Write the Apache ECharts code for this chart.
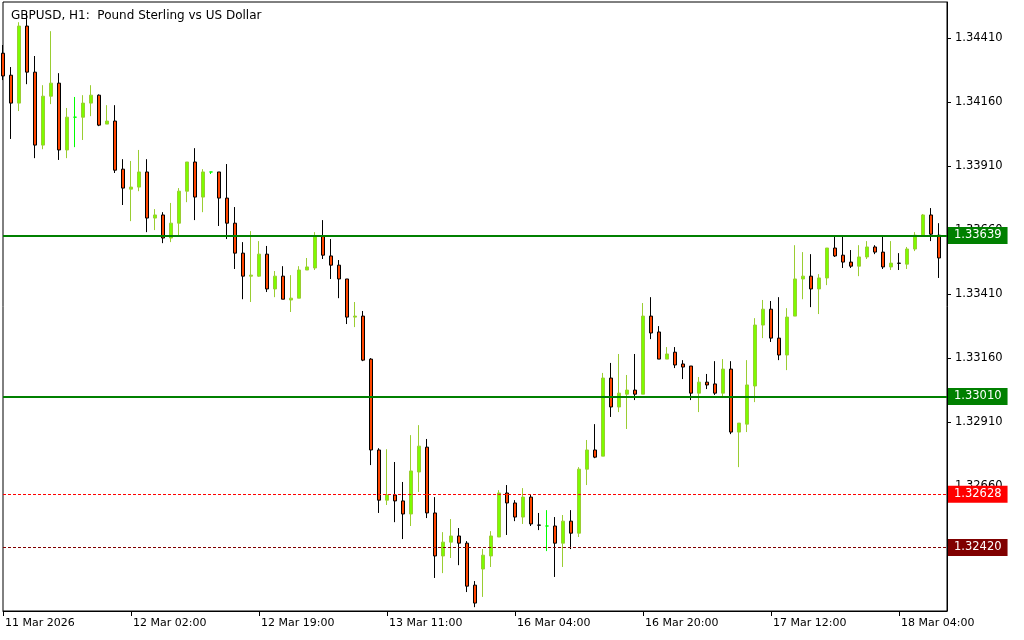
<!DOCTYPE html>
<html><head><meta charset="utf-8">
<script src="https://cdn.jsdelivr.net/npm/echarts@6/dist/echarts.min.js"></script>
<style>html,body{margin:0;padding:0;background:#fff}#c{width:1024px;height:640px}</style>
</head><body><div id="c"></div>
<script>
const chartTitle = 'GBPUSD, H1:  Pound Sterling vs US Dollar';
const timeLabels = ['11 Mar 2026','12 Mar 02:00','12 Mar 19:00','13 Mar 11:00','16 Mar 04:00','16 Mar 20:00','17 Mar 12:00','18 Mar 04:00'];
const labelStep = 16;
const priceTicks = [1.32410,1.32660,1.32910,1.33160,1.33410,1.33660,1.33910,1.34160,1.34410];

const opens = [
1.34351,1.34265,1.34156,1.34457,1.34277,1.33992,1.34183,1.34234,1.33973,1.34101,
1.34101,1.34156,1.34187,1.34074,1.34086,1.33898,1.33820,1.33828,1.33887,1.33707,
1.33719,1.33629,1.33687,1.33812,1.33926,1.33789,1.33887,1.33887,1.33785,1.33687,
1.33570,1.33480,1.33480,1.33566,1.33430,1.33480,1.33387,1.33394,1.33504,1.33512,
1.33637,1.33559,1.33523,1.33469,1.33320,1.33324,1.33156,1.32801,1.32605,1.32625,
1.32602,1.32551,1.32715,1.32812,1.32555,1.32387,1.32441,1.32465,1.32437,1.32273,
1.32336,1.32387,1.32461,1.32633,1.32594,1.32539,1.32617,1.32508,1.32504,1.32504,
1.32437,1.32523,1.32476,1.32726,1.32801,1.32777,1.33082,1.32969,1.33019,1.33035,
1.33019,1.33324,1.33262,1.33156,1.33183,1.33137,1.33129,1.33023,1.33066,1.33059,
1.33023,1.33117,1.32871,1.32902,1.33051,1.33289,1.33351,1.33238,1.33172,1.33324,
1.33469,1.33480,1.33430,1.33473,1.33590,1.33562,1.33535,1.33519,1.33555,1.33594,
1.33574,1.33516,1.33531,1.33527,1.33586,1.33637,1.33719,1.33640];
const closes = [
1.34262,1.34156,1.34457,1.34277,1.33992,1.34183,1.34234,1.33973,1.34101,1.34101,
1.34156,1.34187,1.34070,1.34086,1.33894,1.33824,1.33828,1.33887,1.33707,1.33719,
1.33629,1.33687,1.33812,1.33926,1.33789,1.33887,1.33887,1.33785,1.33687,1.33570,
1.33480,1.33484,1.33566,1.33430,1.33480,1.33390,1.33394,1.33504,1.33516,1.33637,
1.33562,1.33523,1.33469,1.33320,1.33324,1.33152,1.32801,1.32605,1.32625,1.32602,
1.32551,1.32719,1.32816,1.32555,1.32387,1.32441,1.32465,1.32437,1.32269,1.32203,
1.32390,1.32465,1.32633,1.32594,1.32539,1.32617,1.32512,1.32507,1.32504,1.32437,
1.32523,1.32476,1.32726,1.32801,1.32773,1.33082,1.32969,1.33023,1.33035,1.33019,
1.33324,1.33258,1.33156,1.33176,1.33133,1.33125,1.33023,1.33066,1.33055,1.33023,
1.33117,1.32871,1.32906,1.33055,1.33289,1.33351,1.33238,1.33172,1.33320,1.33469,
1.33480,1.33430,1.33473,1.33590,1.33559,1.33535,1.33519,1.33555,1.33594,1.33574,
1.33516,1.33531,1.33530,1.33586,1.33640,1.33719,1.33644,1.33551];
const lows = [
1.34246,1.34016,1.34125,1.34230,1.33941,1.33976,1.34152,1.33934,1.33941,1.33984,
1.34012,1.34105,1.34066,1.34074,1.33883,1.33758,1.33695,1.33812,1.33652,1.33660,
1.33609,1.33613,1.33640,1.33769,1.33699,1.33730,1.33879,1.33676,1.33625,1.33508,
1.33390,1.33379,1.33477,1.33418,1.33398,1.33390,1.33340,1.33394,1.33504,1.33504,
1.33547,1.33469,1.33394,1.33293,1.33281,1.33148,1.32742,1.32555,1.32586,1.32519,
1.32453,1.32504,1.32637,1.32535,1.32301,1.32320,1.32379,1.32351,1.32246,1.32187,
1.32227,1.32344,1.32461,1.32469,1.32523,1.32512,1.32504,1.32488,1.32406,1.32305,
1.32344,1.32414,1.32461,1.32664,1.32769,1.32777,1.32930,1.32949,1.32883,1.32996,
1.33019,1.33234,1.33156,1.33156,1.33121,1.33078,1.32996,1.32949,1.33039,1.33016,
1.33004,1.32863,1.32734,1.32871,1.32988,1.33238,1.33223,1.33152,1.33113,1.33324,
1.33390,1.33359,1.33332,1.33445,1.33555,1.33512,1.33512,1.33480,1.33547,1.33566,
1.33508,1.33504,1.33504,1.33508,1.33578,1.33637,1.33617,1.33473];
const highs = [
1.34383,1.34297,1.34472,1.34508,1.34340,1.34226,1.34437,1.34273,1.34137,1.34180,
1.34187,1.34226,1.34190,1.34148,1.34148,1.33937,1.33930,1.33973,1.33937,1.33742,
1.33730,1.33766,1.33824,1.33926,1.33980,1.33898,1.33887,1.33887,1.33918,1.33750,
1.33613,1.33656,1.33617,1.33598,1.33500,1.33519,1.33484,1.33519,1.33551,1.33652,
1.33699,1.33625,1.33543,1.33469,1.33379,1.33344,1.33160,1.32808,1.32804,1.32754,
1.32676,1.32859,1.32898,1.32844,1.32617,1.32480,1.32531,1.32496,1.32445,1.32289,
1.32414,1.32484,1.32644,1.32664,1.32605,1.32652,1.32629,1.32555,1.32566,1.32539,
1.32547,1.32566,1.32734,1.32840,1.32902,1.33102,1.33141,1.33176,1.33094,1.33176,
1.33375,1.33398,1.33285,1.33203,1.33203,1.33152,1.33129,1.33086,1.33098,1.33148,
1.33156,1.33148,1.32906,1.33152,1.33316,1.33387,1.33383,1.33398,1.33355,1.33601,
1.33574,1.33566,1.33488,1.33590,1.33640,1.33640,1.33582,1.33601,1.33617,1.33601,
1.33633,1.33617,1.33570,1.33594,1.33652,1.33723,1.33746,1.33687];

const levelValues = [1.33639, 1.33010, 1.32628, 1.32420];
const levelColors = ['#008000', '#008000', '#ff0000', '#800000'];

const n = opens.length + 1;
const cats = [];
for (let i = 0; i < n; i++) cats.push('c' + i);

const candles = opens.map((o, i) => {
  const v = [o, closes[i], lows[i], highs[i]];
  if (o === closes[i]) {
    return {value: v, itemStyle: {color: '#00ff00', color0: '#00ff00', borderColor: '#00ff00', borderColor0: '#00ff00'}};
  }
  return v;
});

const markData = levelValues.map((v, i) => ({
  yAxis: v,
  lineStyle: {color: levelColors[i], width: i < 2 ? 2 : 1, type: i < 2 ? 'solid' : [3, 2]},
  label: {backgroundColor: levelColors[i]}
}));

const font = 'DejaVu Sans';
const chart = echarts.init(document.getElementById('c'), null, {renderer: 'canvas'});
chart.setOption({
  animation: false,
  backgroundColor: '#ffffff',
  title: {text: chartTitle, left: 6, top: 5, textStyle: {fontSize: 12, fontWeight: 'normal', color: '#000', fontFamily: font}},
  grid: {left: 3, top: 2, width: 944, height: 609, show: true, borderColor: '#000', borderWidth: 1, backgroundColor: '#fff'},
  xAxis: {
    type: 'category', data: cats, boundaryGap: false,
    axisLine: {lineStyle: {color: '#000', width: 1}},
    axisTick: {show: true, length: 5, lineStyle: {color: '#000'}, interval: (idx) => idx % labelStep === 0 && idx / labelStep < timeLabels.length},
    axisLabel: {
      interval: (idx) => idx % labelStep === 0 && idx / labelStep < timeLabels.length,
      formatter: (val, idx) => timeLabels[idx / labelStep] || '',
      align: 'left', margin: 7, padding: [0, 0, 0, 2], fontSize: 11, color: '#000', fontFamily: font
    },
    splitLine: {show: false}
  },
  yAxis: {
    type: 'value', position: 'right', scale: true,
    min: 1.32172, max: 1.34551,
    axisLine: {show: true, lineStyle: {color: '#000', width: 1}},
    axisTick: {show: true, inside: false, length: 4, lineStyle: {color: '#000'}, customValues: priceTicks},
    axisLabel: {customValues: priceTicks, formatter: (v) => v.toFixed(5), margin: 8, fontSize: 11.5, color: '#000', fontFamily: font},
    splitLine: {show: false}
  },
  series: [{
    type: 'candlestick',
    data: candles,
    barWidth: 4,
    itemStyle: {color: '#7cfc00', color0: '#ff4500', borderColor: '#9acd32', borderColor0: '#000000', borderWidth: 1},
    markLine: {
      silent: true, symbol: 'none', animation: false, precision: 5,
      label: {show: true, position: 'end', distance: 1, formatter: (p) => Number(p.value).toFixed(5), color: '#fff', fontSize: 11.5, fontFamily: font, padding: [3, 6, 2, 6], lineHeight: 12},
      data: markData
    }
  }]
});
</script>
</body></html>
